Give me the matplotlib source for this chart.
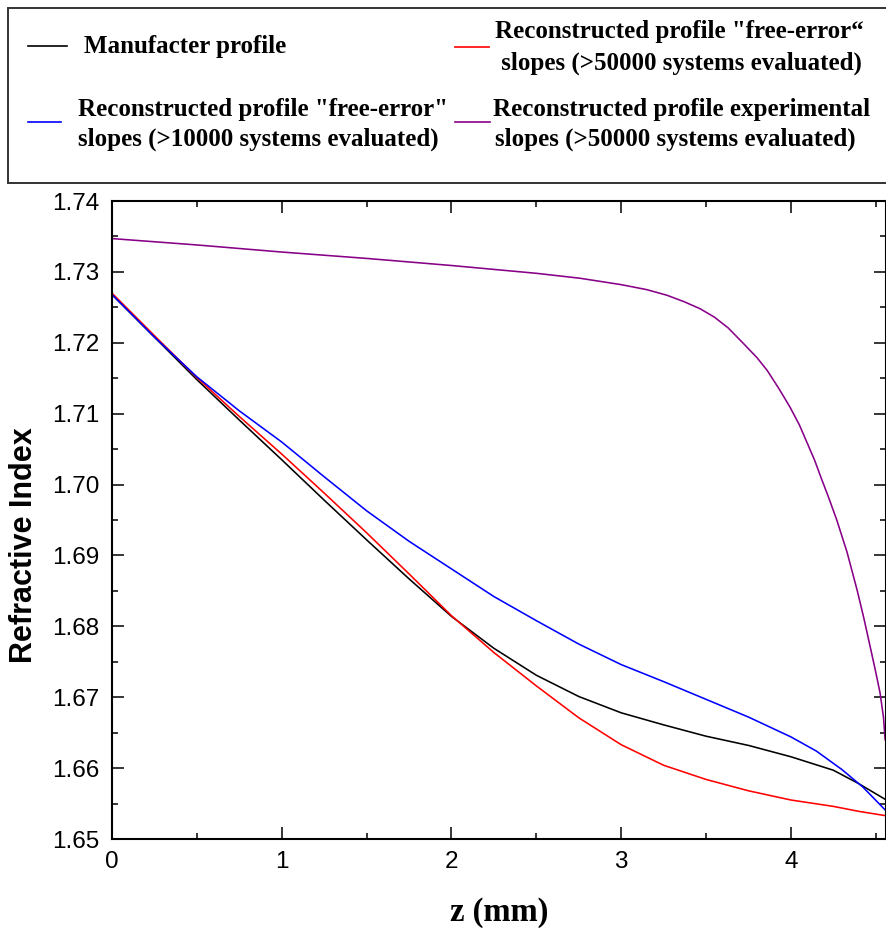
import matplotlib
matplotlib.use("Agg")
import matplotlib.pyplot as plt
from matplotlib.lines import Line2D
from matplotlib.patches import Rectangle
from matplotlib.ticker import MultipleLocator

# ---------------- data ----------------
z_black = [0, 0.25, 0.5, 0.75, 1.0, 1.25, 1.5, 1.75, 2.0, 2.25, 2.5, 2.75, 3.0, 3.25, 3.5,
           3.75, 4.0, 4.25, 4.4, 4.555]
n_black = [1.7268, 1.7208, 1.7148, 1.7091, 1.7035, 1.6978, 1.6922, 1.6867, 1.6814, 1.6769,
           1.6731, 1.6701, 1.6678, 1.6661, 1.6645, 1.6632, 1.6616, 1.6597, 1.6578, 1.6556]

z_red = [0, 0.25, 0.5, 0.75, 1.0, 1.25, 1.5, 1.75, 2.0, 2.25, 2.5, 2.75, 3.0, 3.25, 3.5,
         3.75, 4.0, 4.25, 4.4, 4.555]
n_red = [1.7270, 1.7210, 1.7151, 1.7096, 1.7043, 1.6988, 1.6932, 1.6874, 1.6815, 1.6763,
         1.6716, 1.6671, 1.6633, 1.6604, 1.6584, 1.6568, 1.6555, 1.6546, 1.6539, 1.6533]

z_blue = [0, 0.25, 0.5, 0.75, 1.0, 1.25, 1.5, 1.75, 2.0, 2.25, 2.5, 2.75, 3.0, 3.25, 3.5,
          3.75, 4.0, 4.15, 4.3, 4.425, 4.555]
n_blue = [1.7268, 1.7208, 1.7152, 1.7104, 1.7060, 1.7011, 1.6963, 1.6920, 1.6881, 1.6842,
          1.6808, 1.6775, 1.6746, 1.6722, 1.6697, 1.6672, 1.6644, 1.6624, 1.6598, 1.6573, 1.6541]

z_purple = [0, 0.5, 1.0, 1.5, 2.0, 2.5, 2.758, 3.0, 3.15, 3.27, 3.37, 3.465, 3.55, 3.63, 3.72,
            3.8, 3.86, 3.93, 3.995, 4.05, 4.095, 4.14, 4.18, 4.22, 4.27, 4.33, 4.39, 4.43,
            4.467, 4.5, 4.525, 4.545, 4.555]
n_purple = [1.7347, 1.7338, 1.7328, 1.7319, 1.7309, 1.7298, 1.7291, 1.7282, 1.7275, 1.7267,
            1.7258, 1.7248, 1.7236, 1.7221, 1.7199, 1.7179, 1.7161, 1.7135, 1.7109, 1.7084,
            1.7059, 1.7034, 1.7008, 1.6983, 1.6950, 1.6905, 1.6851, 1.6811, 1.6771, 1.6735,
            1.6706, 1.6672, 1.6640]

x_ticks = [0, 1, 2, 3, 4]
y_ticks = [1.65, 1.66, 1.67, 1.68, 1.69, 1.70, 1.71, 1.72, 1.73, 1.74]
y_tick_labels = ["1.65", "1.66", "1.67", "1.68", "1.69", "1.70", "1.71", "1.72", "1.73", "1.74"]

legend_black = ["Manufacter profile"]
legend_red = ['Reconstructed profile "free-error\u201c', " slopes (>50000 systems evaluated)"]
legend_blue = ['Reconstructed profile "free-error"', "slopes (>10000 systems evaluated)"]
legend_purple = ["Reconstructed profile experimental", "slopes (>50000 systems evaluated)"]

C_BLACK, C_RED, C_BLUE, C_PURPLE = "#000000", "#ff0000", "#0000ff", "#880088"

# ---------------- figure ----------------
W, H = 886, 934
fig = plt.figure(figsize=(W / 100, H / 100), dpi=100)


def fx(px):
    return px / W


def fy(py):
    return 1 - py / H


ax = fig.add_axes([fx(112), fy(839), (886 - 112) / W, (839 - 201) / H])

lw = 1.15
ax.plot(z_black, n_black, color=C_BLACK, lw=lw)
ax.plot(z_red, n_red, color=C_RED, lw=lw)
ax.plot(z_blue, n_blue, color=C_BLUE, lw=lw)
ax.plot(z_purple, n_purple, color=C_PURPLE, lw=lw)

ax.set_xlim(0, 4.56)
ax.set_ylim(1.65, 1.74)
ax.set_xticks(x_ticks)
ax.set_xticklabels([str(t) for t in x_ticks])
ax.set_yticks(y_ticks)
ax.set_yticklabels(y_tick_labels)
ax.xaxis.set_minor_locator(MultipleLocator(0.5))
ax.yaxis.set_minor_locator(MultipleLocator(0.005))

for s in ax.spines.values():
    s.set_linewidth(1.5)
ax.tick_params(which="both", direction="in", top=True, right=True, width=1.1)
ax.tick_params(which="major", length=8.5, pad=9)
ax.tick_params(which="minor", length=4.3)
for lab in ax.get_xticklabels() + ax.get_yticklabels():
    lab.set_fontfamily("Liberation Sans")
    lab.set_fontsize(17.5)

# axis labels
fig.text(fx(24), fy(545), "Refractive Index", rotation=90, ha="center", va="center",
         fontsize=22, fontweight="bold", family="Liberation Sans")
fig.text(fx(499), fy(913), "z (mm)", ha="center", va="center",
         fontsize=23.5, fontweight="bold", family="Liberation Serif")

# legend box
fig.add_artist(Rectangle((fx(8), fy(183)), 1.1, (183 - 8) / H, transform=fig.transFigure,
                         facecolor="white", edgecolor="#333333", linewidth=1.4))

tprops = dict(fontsize=18, fontweight="bold", family="Liberation Serif", va="baseline", ha="left")


def handle(x0, x1, y, c):
    fig.add_artist(Line2D([fx(x0), fx(x1)], [fy(y), fy(y)], transform=fig.transFigure,
                          color=c, lw=1.2))


handle(28, 67, 46, C_BLACK)
fig.text(fx(84), fy(53), legend_black[0], **tprops)

handle(455, 489, 47, C_RED)
fig.text(fx(495), fy(38), legend_red[0], **tprops)
fig.text(fx(495), fy(70), legend_red[1], **tprops)

handle(28, 61, 122, C_BLUE)
fig.text(fx(78), fy(116), legend_blue[0], **tprops)
fig.text(fx(78), fy(146), legend_blue[1], **tprops)

handle(455, 490, 122, C_PURPLE)
fig.text(fx(493), fy(116), legend_purple[0], **tprops)
fig.text(fx(495), fy(146), legend_purple[1], **tprops)

fig.savefig("out.png", dpi=100)
